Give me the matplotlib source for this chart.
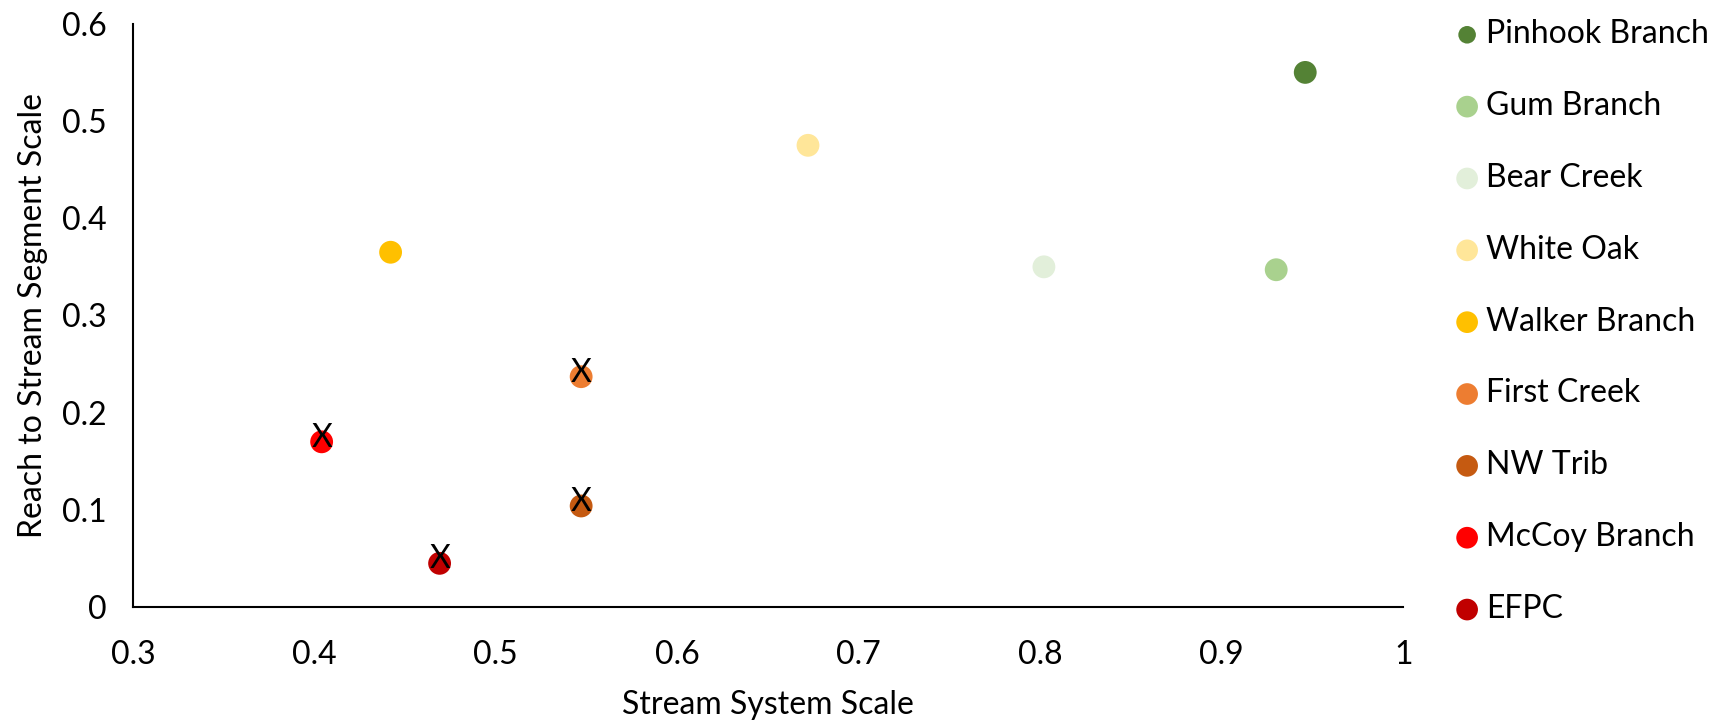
import matplotlib.pyplot as plt

plt.rcParams['font.family'] = ['Lato', 'DejaVu Sans']

names = ['Pinhook Branch', 'Gum Branch', 'Bear Creek', 'White Oak', 'Walker Branch',
         'First Creek', 'NW Trib', 'McCoy Branch', 'EFPC']
system_scale = [0.946, 0.930, 0.802, 0.672, 0.442, 0.547, 0.547, 0.404, 0.469]
segment_scale = [0.550, 0.347, 0.350, 0.475, 0.365, 0.237, 0.104, 0.170, 0.045]
colors = ['#548235', '#A9D18E', '#E2EFDA', '#FFE699', '#FFC000',
          '#ED7D31', '#C55A11', '#FF0000', '#C00000']
flagged = [False, False, False, False, False, True, True, True, True]

fig = plt.figure(figsize=(17.26, 7.21), dpi=100)
ax = fig.add_axes([0.077, 0.158, 0.736, 0.809])

for n, x, y, c, f in zip(names, system_scale, segment_scale, colors, flagged):
    ax.scatter(x, y, s=270, color=c, label=n, edgecolors='none', zorder=3)
    if f:
        # X sits slightly above the dot centre
        ax.text(x, y + 0.004, 'X', ha='center', va='center', fontsize=23, color='black', zorder=4)

ax.set_xlim(0.3, 1.0)
ax.set_ylim(0, 0.6)
ax.set_xticks([0.3, 0.4, 0.5, 0.6, 0.7, 0.8, 0.9, 1.0])
ax.set_xticklabels(['0.3', '0.4', '0.5', '0.6', '0.7', '0.8', '0.9', '1'])
ax.set_yticks([0, 0.1, 0.2, 0.3, 0.4, 0.5, 0.6])
ax.set_yticklabels(['0', '0.1', '0.2', '0.3', '0.4', '0.5', '0.6'])
ax.tick_params(length=0, labelsize=23)
ax.tick_params(axis='x', pad=24)
ax.tick_params(axis='y', pad=19)
for s in ['top', 'right']:
    ax.spines[s].set_visible(False)
for s in ['left', 'bottom']:
    ax.spines[s].set_linewidth(1.5)

ax.set_xlabel('Stream System Scale', fontsize=23)
ax.set_ylabel('Reach to Stream Segment Scale', fontsize=23)
ax.xaxis.set_label_coords(0.5, -0.168)
ax.xaxis.label.set_va('center')
ax.yaxis.set_label_coords(-0.079, 0.5)
ax.yaxis.label.set_va('center')

leg = fig.legend(loc='upper left', bbox_to_anchor=(0.8315, 1.0), frameon=False,
                 fontsize=23, labelspacing=1.31, handlelength=0.8, handletextpad=0.19,
                 markerscale=0.95, borderaxespad=0.2)
# the first legend dot is drawn a little smaller in the original
leg.legend_handles[0].set_sizes([160])

fig.savefig('out.png', dpi=100)
